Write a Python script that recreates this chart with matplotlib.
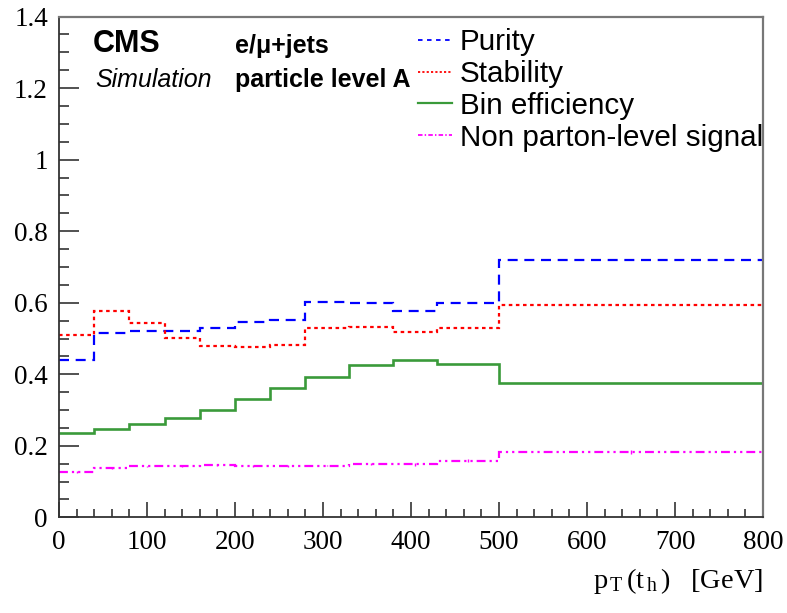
import matplotlib
matplotlib.use("Agg")
import matplotlib.pyplot as plt
from matplotlib.ticker import MultipleLocator, FuncFormatter
from matplotlib.lines import Line2D
import numpy as np

# ---- data ----
edges = [0, 40, 80, 120, 160, 200, 240, 280, 330, 380, 430, 500, 800]
purity = [0.440, 0.515, 0.520, 0.520, 0.530, 0.545, 0.551, 0.603, 0.598, 0.576, 0.599, 0.719]
stability = [0.510, 0.578, 0.542, 0.501, 0.478, 0.477, 0.481, 0.528, 0.532, 0.517, 0.528, 0.594]
efficiency = [0.236, 0.248, 0.262, 0.279, 0.301, 0.330, 0.362, 0.392, 0.427, 0.440, 0.430, 0.375]
nonparton = [0.127, 0.137, 0.143, 0.144, 0.146, 0.144, 0.144, 0.145, 0.150, 0.148, 0.158, 0.183]
nonparton_err = [0.002, 0.002, 0.002, 0.002, 0.002, 0.002, 0.002, 0.002, 0.003, 0.004, 0.004, 0.005]
labels = ["Purity", "Stability", "Bin efficiency", "Non parton-level signal"]

serif = ["Liberation Serif", "DejaVu Serif"]
sans = ["Liberation Sans", "DejaVu Sans"]

plt.rcParams["mathtext.fontset"] = "custom"
plt.rcParams["mathtext.rm"] = "Liberation Serif"
plt.rcParams["mathtext.it"] = "Liberation Serif:italic"
plt.rcParams["mathtext.bf"] = "Liberation Serif:bold"

fig = plt.figure(figsize=(7.87, 6.13), dpi=100)
ax = fig.add_axes([0.075, 0.156, 0.8945, 0.817])

lw = 1.6
c_blue, c_red, c_green, c_mag = "#0000ff", "#ff0000", "#3a9a3a", "#ff00ff"
ls_pur = (0, (4.5, 3))
ls_sta = (0, (1.6, 1.6))
ls_non = (0, (4, 1.8, 1, 1.8, 1, 1.8))

ax.stairs(purity, edges, baseline=None, color=c_blue, lw=lw, linestyle=ls_pur)
ax.stairs(stability, edges, baseline=None, color=c_red, lw=lw, linestyle=ls_sta)
ax.stairs(efficiency, edges, baseline=None, color=c_green, lw=lw + 0.3, linestyle="-")
ax.stairs(nonparton, edges, baseline=None, color=c_mag, lw=lw, linestyle=ls_non)
centers = 0.5 * (np.array(edges[:-1]) + np.array(edges[1:]))
ax.errorbar(centers, nonparton, yerr=nonparton_err, fmt="none", ecolor=c_mag, elinewidth=1.0)

ax.set_xlim(0, 800)
ax.set_ylim(0, 1.4)
ax.xaxis.set_major_locator(MultipleLocator(100))
ax.xaxis.set_minor_locator(MultipleLocator(20))
ax.yaxis.set_major_locator(MultipleLocator(0.2))
ax.yaxis.set_minor_locator(MultipleLocator(0.05))
ax.yaxis.set_major_formatter(FuncFormatter(lambda v, p: "%g" % round(v, 2)))
ax.tick_params(which="both", direction="in", top=False, right=False, colors="#333333",
               labelcolor="black", width=1.2)
ax.tick_params(axis="y", which="major", length=14.4, pad=8)
ax.tick_params(axis="y", which="minor", length=7.2)
ax.tick_params(axis="x", which="major", length=11, pad=9)
ax.tick_params(axis="x", which="minor", length=5.5)
for lab in ax.get_xticklabels() + ax.get_yticklabels():
    lab.set_family(serif)
    lab.set_fontsize(19.5)
for name, s in ax.spines.items():
    if name in ("top", "right"):
        s.set_color("#777777")
        s.set_linewidth(1.6)
    else:
        s.set_color("#333333")
        s.set_linewidth(1.3)

ax.set_xlabel(r"$\mathrm{p_{\,T}\,(t_{\,h}\,)\ \ \ [GeV]}$", fontsize=20.5,
              loc="right", labelpad=8)

# CMS labels (baseline anchored)
ax.text(0.048, 0.930, "CMS", transform=ax.transAxes, fontsize=22, fontweight="bold",
        family=sans, va="baseline", ha="left")
ax.text(0.051, 0.860, "Simulation", transform=ax.transAxes, fontsize=18, style="italic",
        family=sans, va="baseline", ha="left")
ax.text(0.250, 0.9265, "e/\u03bc+jets", transform=ax.transAxes, fontsize=18, fontweight="bold",
        family=sans, va="baseline", ha="left")
ax.text(0.250, 0.860, "particle level A", transform=ax.transAxes, fontsize=18, fontweight="bold",
        family=sans, va="baseline", ha="left")

handles = [
    Line2D([], [], color=c_blue, lw=1.3, linestyle=(0, (2.5, 2.5))),
    Line2D([], [], color=c_red, lw=1.3, linestyle=(0, (1.2, 1.2))),
    Line2D([], [], color=c_green, lw=1.6, linestyle="-"),
    Line2D([], [], color=c_mag, lw=1.3, linestyle=(0, (2.5, 1.2, 0.8, 1.2))),
]
leg = ax.legend(handles, labels, loc="upper left", bbox_to_anchor=(0.51, 0.977),
                frameon=False, prop={"family": sans, "size": 21.3},
                handlelength=1.15, handletextpad=0.27, labelspacing=0.13,
                borderaxespad=0.0, borderpad=0.0)

fig.savefig("out.png", dpi=100)
